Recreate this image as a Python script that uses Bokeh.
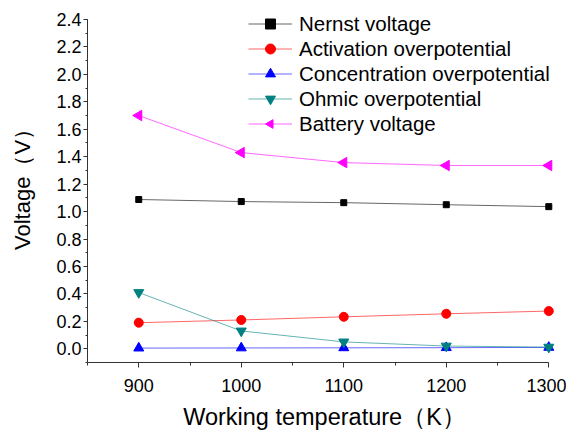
import math
from bokeh.plotting import figure
from bokeh.models import SingleIntervalTicker, Range1d, Legend, NumeralTickFormatter, ColumnDataSource
from bokeh.embed import file_html
from bokeh.resources import INLINE

temperature = [900, 1000, 1100, 1200, 1300]
nernst = [1.088, 1.073, 1.065, 1.050, 1.036]
activation = [0.19, 0.21, 0.233, 0.255, 0.275]
concentration = [0.005, 0.006, 0.007, 0.008, 0.010]
ohmic = [0.41, 0.13, 0.05, 0.02, 0.012]
battery = [1.70, 1.43, 1.357, 1.336, 1.336]

X_AXIS = (850, 1300)
Y_AXIS = (-0.1, 2.4)

FONT = "Liberation Sans"

# ranges slightly larger than the drawn axes so the legend is not clipped
p = figure(width=566, height=432, output_backend="svg", toolbar_location=None,
           x_range=Range1d(850, 1312.4), y_range=Range1d(-0.1, 2.502),
           min_border_left=87, min_border_right=5, min_border_top=5, min_border_bottom=70)
p.outline_line_color = None
p.xgrid.visible = False
p.ygrid.visible = False
p.background_fill_color = "white"
p.border_fill_color = "white"

series = [
    ("Nernst voltage", nernst, "black", "square", 6),
    ("Activation overpotential", activation, "red", "circle", 9),
    ("Concentration overpotential", concentration, "blue", "triangle", 10),
    ("Ohmic overpotential", ohmic, "#008080", "inverted_triangle", 10),
    ("Battery voltage", battery, "magenta", "ngon", 6),
]

items = []
for name, vals, col, mk, sz in series:
    src = ColumnDataSource(dict(x=temperature, y=vals))
    r1 = p.line("x", "y", source=src, line_color=col, line_width=1, line_alpha=0.6)
    if mk == "ngon":
        r2 = p.ngon("x", "y", source=src, radius=sz, radius_units="screen", n=3,
                    angle=math.pi / 2, fill_color=col, line_color=col)
    else:
        r2 = p.scatter("x", "y", source=src, marker=mk, size=sz,
                       fill_color=col, line_color=col)
    items.append((name, [r1, r2]))

legend = Legend(items=items, location=(161, 226))
legend.border_line_color = None
legend.background_fill_alpha = 0
legend.padding = 0
legend.margin = 0
legend.spacing = 0
legend.glyph_width = 44
legend.glyph_height = 25
legend.label_height = 25
legend.label_standoff = 7
legend.label_text_font = FONT
legend.label_text_font_size = "20.5px"
legend.label_text_color = "black"
p.add_layout(legend, "center")

for ax in (p.xaxis[0], p.yaxis[0]):
    ax.major_tick_in = 0
    ax.minor_tick_in = 0
    ax.axis_line_color = "#333333"
    ax.major_tick_line_color = "#333333"
    ax.minor_tick_line_color = "#333333"
    ax.major_label_text_font = FONT
    ax.major_label_text_font_size = "18px"
    ax.major_label_text_color = "black"
    ax.axis_label_text_font = FONT
    ax.axis_label_text_font_style = "normal"
    ax.axis_label_text_color = "black"

p.xaxis[0].major_tick_out = 5
p.xaxis[0].minor_tick_out = 3
p.yaxis[0].major_tick_out = 4
p.yaxis[0].minor_tick_out = 2
p.xaxis[0].bounds = X_AXIS
p.yaxis[0].bounds = (Y_AXIS[0], Y_AXIS[1] + 1e-6)
p.xaxis[0].ticker = SingleIntervalTicker(interval=100, num_minor_ticks=2)
p.yaxis[0].ticker = SingleIntervalTicker(interval=0.2, num_minor_ticks=2)
p.yaxis[0].formatter = NumeralTickFormatter(format="0.0")
p.xaxis[0].axis_label = "Working temperature（K）"
p.yaxis[0].axis_label = "Voltage（V）"
p.xaxis[0].axis_label_text_font_size = "23.5px"
p.yaxis[0].axis_label_text_font_size = "22px"
p.xaxis[0].major_label_standoff = 11
p.yaxis[0].major_label_standoff = 2
p.xaxis[0].axis_label_standoff = 9
p.yaxis[0].axis_label_standoff = 18

open("out.html", "w").write(file_html(p, INLINE))
